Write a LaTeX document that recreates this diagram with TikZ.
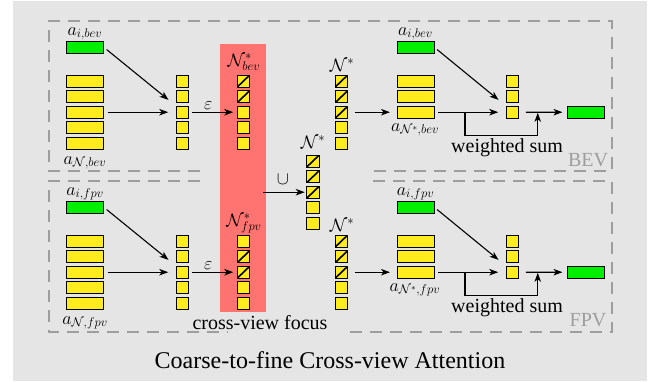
\RequirePackage{fix-cm}
\documentclass[tikz,border=0pt]{standalone}
\usepackage{fontspec}
\setmainfont{Liberation Serif}
\usetikzlibrary{arrows.meta,calc}
\definecolor{bgc}{RGB}{229,229,229}
\definecolor{yel}{RGB}{255,236,30}
\definecolor{grn}{RGB}{0,238,0}
\definecolor{pnk}{RGB}{255,115,112}
\definecolor{dgray}{RGB}{158,158,158}
\begin{document}
\begin{tikzpicture}[x=1pt,y=-1pt,
  bar/.style={draw=black, line width=0.7pt, fill=yel, minimum width=37pt, minimum height=12pt, inner sep=0pt, outer sep=0pt},
  gbar/.style={bar, fill=grn},
  sq/.style={bar, minimum width=12.5pt},
  hsq/.style={sq, path picture={\draw[line width=1.6pt] (path picture bounding box.south west) -- (path picture bounding box.north east);}},
  arr/.style={-{Stealth[length=9pt,width=6.5pt,inset=2.5pt]}, line width=1.1pt},
  mlab/.style={font=\fontsize{18}{20}\selectfont, inner sep=0pt, anchor=base},
  txt/.style={font=\fontsize{20}{22}\selectfont, inner sep=0pt, anchor=base},
  frame/.style={draw=dgray, line width=1.8pt, dash pattern=on 12pt off 8pt},
]
\useasboundingbox (0,0) rectangle (660,381);
\fill[white] (0,0) rectangle (660,381);
\fill[bgc] (13,1) rectangle (647,381);

% cross-view focus band
\node[fill=pnk, minimum width=46pt, minimum height=268pt, inner sep=0pt, anchor=north west] (focus) at (220,44) {};

% dashed frames
\draw[frame] (200,171) -- (49,171) -- (49,21) -- (612,21) -- (612,171) -- (370,171);
\draw[frame] (200,181) -- (49,181) -- (49,332) -- (228,332);
\draw[frame] (350,332) -- (612,332) -- (612,181) -- (370,181);

\foreach \v/\dy/\V in {bev/0/BEV,fpv/160/FPV}{
  \begin{scope}[shift={(0,\dy)}]
    % left input
    \node[gbar] (gi\v) at (85,47) {};
    \node[mlab] (lai\v) at (85,35) {$a_{i,\v}$};
    \foreach \k in {1,...,5} \node[bar] (s\v\k) at (85,{81+15.6*(\k-1)}) {};
    \node[mlab] (laN\v) at (85,164) {$a_{\mathcal{N},\v}$};
    \foreach \k in {1,...,5} \node[sq] (c\v\k) at (182.5,{81+15.6*(\k-1)}) {};
    % N* column
    \foreach \k in {1,2,3} \node[hsq] (n\v\k) at (341.5,{81+15.6*(\k-1)}) {};
    \foreach \k in {4,5} \node[sq] (n\v\k) at (341.5,{81+15.6*(\k-1)}) {};
    \node[mlab] (lN\v) at (342,71) {$\mathcal{N}^*$};
    % right part
    \node[gbar] (ri\v) at (415.5,47) {};
    \node[mlab] (lri\v) at (415.5,35) {$a_{i,\v}$};
    \foreach \k in {1,2,3} \node[bar] (r\v\k) at (415.5,{81+15.6*(\k-1)}) {};
    \node[mlab] (lrN\v) at (415,131) {$a_{\mathcal{N}^*,\v}$};
    \foreach \k in {1,2,3} \node[sq] (d\v\k) at (512.5,{81+15.6*(\k-1)}) {};
    \node[gbar] (o\v) at (586,112.2) {};
    \node[txt] (ws\v) at (507,152) {weighted sum};
    \node[txt, text=dgray] (view\v) at (588,166) {\V};
  \end{scope}
}

% focus columns
\foreach \k in {1,2} \node[hsq] (mbev\k) at (243.5,{81+15.6*(\k-1)}) {};
\foreach \k in {3,4,5} \node[sq] (mbev\k) at (243.5,{81+15.6*(\k-1)}) {};
\node[mlab] (lmbev) at (244,66) {$\mathcal{N}^*_{bev}$};
\foreach \k in {1,4,5} \node[sq] (mfpv\k) at (243.5,{241+15.6*(\k-1)}) {};
\foreach \k in {2,3} \node[hsq] (mfpv\k) at (243.5,{241+15.6*(\k-1)}) {};
\node[mlab] (lmfpv) at (244,226) {$\mathcal{N}^*_{fpv}$};

% union column
\foreach \k in {1,2,3} \node[hsq] (u\k) at (313,{161+15.6*(\k-1)}) {};
\foreach \k in {4,5} \node[sq] (u\k) at (313,{161+15.6*(\k-1)}) {};
\node[mlab] (lu) at (313,148) {$\mathcal{N}^*$};

% connectors
\foreach \v in {bev,fpv}{
  \draw[arr, shorten <=4pt, shorten >=10pt] (gi\v.east) -- (c\v3.north west);
  \draw[arr, shorten <=4pt, shorten >=8pt] (s\v3.east) -- (c\v3.west);
  \draw[arr, shorten <=3pt, shorten >=4pt] (c\v3.east) -- node[pos=0.4, above=2pt, inner sep=0pt, font=\fontsize{18}{20}\selectfont] {$\varepsilon$} (m\v3.west);
  \draw[arr, shorten <=7pt, shorten >=7pt] (n\v3.east) -- (r\v3.west);
  \draw[arr, shorten <=4pt, shorten >=10pt] (ri\v.east) -- (d\v3.north west);
  \draw[arr, shorten <=4pt, shorten >=8pt] (r\v3.east) -- (d\v3.west);
  \draw[arr, shorten <=7pt, shorten >=5pt] (d\v3.east) -- (o\v.west);
  \coordinate (wa\v) at ($(r\v3.east)+(31,0)$);
  \coordinate (wb\v) at ($(d\v3.east)+(19,0)$);
  \draw[arr, shorten >=0.6pt] (wa\v) -- ++(0,23) -| (wb\v);
}
\draw[arr, shorten >=2pt] ($(focus.east |- u3.west)+(-3,0)$) -- node[pos=0.45, above=7pt, inner sep=0pt, font=\fontsize{18}{20}\selectfont] {$\cup$} (u3.west);

\node[txt, fill=bgc, inner sep=0pt] (cvf) at (260,329) {cross-view focus};
\node[font=\fontsize{24}{26}\selectfont, anchor=base, inner sep=0pt] (title) at (330,368) {Coarse-to-fine Cross-view Attention};
\end{tikzpicture}
\end{document}
